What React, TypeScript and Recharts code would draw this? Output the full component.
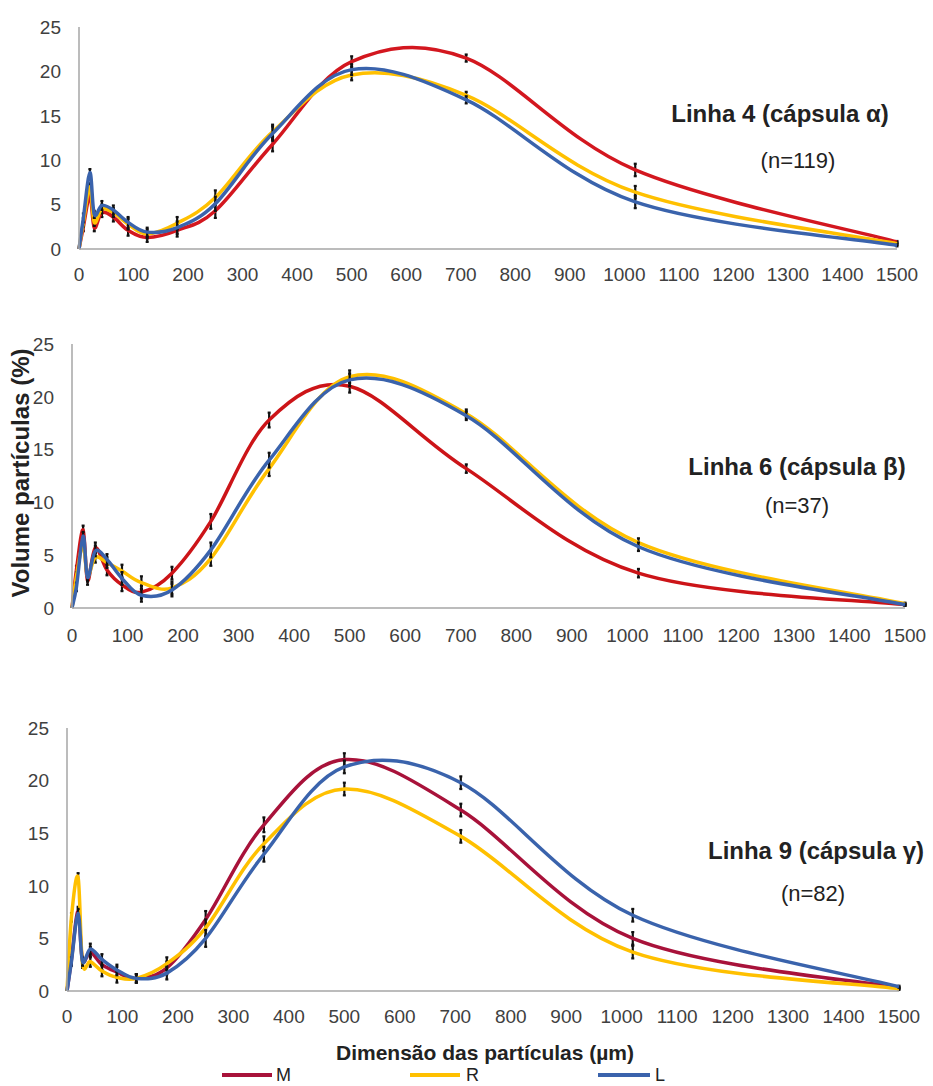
import React from "react";
import { LineChart, Line, XAxis, YAxis, ErrorBar } from "recharts";

const FONT = '"Liberation Sans", Arial, sans-serif';

// sieve sizes (µm) where each measurement was taken
const sizes = [0, 8, 20, 28, 42, 63, 90, 125, 180, 250, 355, 500, 710, 1020, 1500];
const xTicks = [0, 100, 200, 300, 400, 500, 600, 700, 800, 900, 1000, 1100, 1200, 1300, 1400, 1500];
const yTicks = [0, 5, 10, 15, 20, 25];

// Linha 4 (cápsula α)
const linha4M = [0, 2.5, 6.0, 2.4, 4.1, 3.6, 2.1, 1.3, 2.1, 4.3, 11.8, 21.1, 21.5, 8.9, 0.8];
const linha4R = [0, 3.0, 7.0, 3.0, 4.5, 4.1, 2.8, 1.7, 2.9, 5.8, 13.2, 19.6, 17.3, 6.4, 0.6];
const linha4L = [0, 3.5, 8.6, 3.9, 4.9, 4.4, 3.0, 1.9, 2.4, 5.1, 13.0, 20.2, 16.8, 5.3, 0.4];
const linha4Err = [0, 0.5, 0.4, 0.4, 0.5, 0.5, 0.6, 0.5, 0.7, 0.8, 0.8, 0.6, 0.4, 0.7, 0.1];

// Linha 6 (cápsula β)
const linha6M = [0, 3.6, 7.4, 2.6, 5.7, 3.6, 2.2, 1.5, 3.3, 8.2, 17.8, 21.0, 13.2, 3.3, 0.3];
const linha6R = [0, 3.0, 6.0, 3.0, 4.8, 4.3, 3.5, 2.4, 1.9, 4.7, 13.2, 21.9, 18.4, 6.2, 0.4];
const linha6L = [0, 2.0, 6.8, 2.9, 5.4, 4.6, 2.8, 1.2, 1.7, 5.5, 14.0, 21.6, 18.2, 5.8, 0.3];
const linha6Err = [0, 0.4, 0.4, 0.4, 0.5, 0.5, 0.6, 0.6, 0.6, 0.7, 0.7, 0.6, 0.4, 0.4, 0.1];

// Linha 9 (cápsula γ)
const linha9M = [0, 3.0, 7.6, 2.9, 3.7, 2.5, 1.8, 1.2, 2.2, 6.8, 15.8, 22.0, 17.2, 5.0, 0.3];
const linha9R = [0, 7.0, 10.8, 2.6, 2.8, 1.9, 1.3, 1.2, 2.6, 6.0, 14.0, 19.2, 14.7, 3.7, 0.2];
const linha9L = [0, 2.8, 7.4, 2.8, 4.0, 3.0, 2.0, 1.2, 1.7, 5.0, 13.0, 21.3, 19.8, 7.2, 0.4];
const linha9Err = [0, 0.4, 0.4, 0.4, 0.5, 0.5, 0.5, 0.4, 0.6, 0.8, 0.7, 0.6, 0.6, 0.6, 0.1];

const YELLOW = "#FFC000";
const BLUE = "#3A63AC";

// Excel-style smoothed line (Catmull-Rom as cubic bezier)
const excelSmooth = (ctx: any) => {
  let pts: number[][] = [];
  return {
    areaStart() {},
    areaEnd() {},
    lineStart() {
      pts = [];
    },
    lineEnd() {
      const n = pts.length;
      if (!n) return;
      ctx.moveTo(pts[0][0], pts[0][1]);
      for (let i = 0; i < n - 1; i++) {
        const p0 = pts[Math.max(i - 1, 0)];
        const p1 = pts[i];
        const p2 = pts[i + 1];
        const p3 = pts[Math.min(i + 2, n - 1)];
        ctx.bezierCurveTo(
          p1[0] + (p2[0] - p0[0]) / 6,
          p1[1] + (p2[1] - p0[1]) / 6,
          p2[0] - (p3[0] - p1[0]) / 6,
          p2[1] - (p3[1] - p1[1]) / 6,
          p2[0],
          p2[1]
        );
      }
    },
    point(x: number, y: number) {
      pts.push([x, y]);
    },
  };
};

const rows = (m: number[], r: number[], l: number[], e: number[]) =>
  sizes.map((x, i) => ({ x, M: m[i], R: r[i], L: l[i], e: e[i] }));

type PanelProps = {
  top: number;
  height: number;
  mTop: number;
  mRight: number;
  mBottom: number;
  yWidth: number;
  xHeight: number;
  xTickMargin: number;
  data: any[];
  red: string;
};

function Panel(p: PanelProps) {
  const tick = { fill: "#404040", fontSize: 19, fontFamily: FONT };
  const series = [
    { key: "M", color: p.red },
    { key: "R", color: YELLOW },
    { key: "L", color: BLUE },
  ];
  return (
    <div style={{ position: "absolute", left: 0, top: p.top }}>
      <LineChart
        width={933}
        height={p.height}
        data={p.data}
        margin={{ top: p.mTop, right: p.mRight, bottom: p.mBottom, left: 0 }}
      >
        <XAxis
          dataKey="x"
          type="number"
          domain={[0, 1500]}
          ticks={xTicks}
          interval={0}
          tickLine={false}
          tickMargin={p.xTickMargin}
          height={p.xHeight}
          axisLine={{ stroke: "#A6A6A6", strokeWidth: 1.5 }}
          tick={tick}
        />
        <YAxis
          type="number"
          domain={[0, 25]}
          ticks={yTicks}
          interval={0}
          tickLine={false}
          tickMargin={12}
          width={p.yWidth}
          axisLine={{ stroke: "#A6A6A6", strokeWidth: 1.5 }}
          tick={tick}
        />
        {series.map((s) => (
          <Line
            key={s.key}
            dataKey={s.key}
            type={excelSmooth as any}
            stroke={s.color}
            strokeWidth={3.5}
            dot={false}
            activeDot={false}
            isAnimationActive={false}
          >
            <ErrorBar dataKey="e" direction="y" width={1.5} stroke="#111" strokeWidth={2.2} />
          </Line>
        ))}
      </LineChart>
    </div>
  );
}

export default function App() {
  const titleStyle = { fontFamily: FONT, fontWeight: 700, fontSize: 24, fill: "#222" };
  const nStyle = { fontFamily: FONT, fontSize: 22, fill: "#222" };
  const legendStyle = { fontFamily: FONT, fontSize: 18, fill: "#222" };
  return (
    <div
      style={{ position: "absolute", left: 0, top: 0, width: 933, height: 1086, background: "#fff" }}
    >
      <Panel
        top={0}
        height={300}
        mTop={27}
        mRight={36}
        mBottom={11}
        yWidth={79}
        xHeight={40}
        xTickMargin={13}
        data={rows(linha4M, linha4R, linha4L, linha4Err)}
        red="#D3171F"
      />
      <Panel
        top={330}
        height={325}
        mTop={14}
        mRight={28}
        mBottom={7}
        yWidth={72}
        xHeight={40}
        xTickMargin={15}
        data={rows(linha6M, linha6R, linha6L, linha6Err)}
        red="#CC1418"
      />
      <Panel
        top={710}
        height={320}
        mTop={18}
        mRight={34}
        mBottom={9}
        yWidth={67}
        xHeight={30}
        xTickMargin={13}
        data={rows(linha9M, linha9R, linha9L, linha9Err)}
        red="#A8123A"
      />
      <svg
        width={933}
        height={1086}
        style={{ position: "absolute", left: 0, top: 0, pointerEvents: "none" }}
      >
        <text x={780} y={113} textAnchor="middle" dominantBaseline="central" style={titleStyle}>
          Linha 4 (cápsula α)
        </text>
        <text x={798} y={160} textAnchor="middle" dominantBaseline="central" style={nStyle}>
          (n=119)
        </text>
        <text x={797} y={466} textAnchor="middle" dominantBaseline="central" style={titleStyle}>
          Linha 6 (cápsula β)
        </text>
        <text x={797} y={505} textAnchor="middle" dominantBaseline="central" style={nStyle}>
          (n=37)
        </text>
        <text x={816} y={850} textAnchor="middle" dominantBaseline="central" style={titleStyle}>
          Linha 9 (cápsula γ)
        </text>
        <text x={813} y={893} textAnchor="middle" dominantBaseline="central" style={nStyle}>
          (n=82)
        </text>
        <text
          x={20}
          y={473}
          textAnchor="middle"
          dominantBaseline="central"
          transform="rotate(-90 20 473)"
          style={titleStyle}
        >
          Volume partículas (%)
        </text>
        <text
          x={485}
          y={1052}
          textAnchor="middle"
          dominantBaseline="central"
          style={{ ...titleStyle, fontSize: 21 }}
        >
          Dimensão das partículas (µm)
        </text>
        <line x1={222} x2={272} y1={1075} y2={1075} stroke="#A8123A" strokeWidth={4} />
        <text x={276} y={1075} dominantBaseline="central" style={legendStyle}>
          M
        </text>
        <line x1={410} x2={460} y1={1075} y2={1075} stroke={YELLOW} strokeWidth={4} />
        <text x={466} y={1075} dominantBaseline="central" style={legendStyle}>
          R
        </text>
        <line x1={598} x2={650} y1={1075} y2={1075} stroke={BLUE} strokeWidth={4} />
        <text x={655} y={1075} dominantBaseline="central" style={legendStyle}>
          L
        </text>
      </svg>
    </div>
  );
}
